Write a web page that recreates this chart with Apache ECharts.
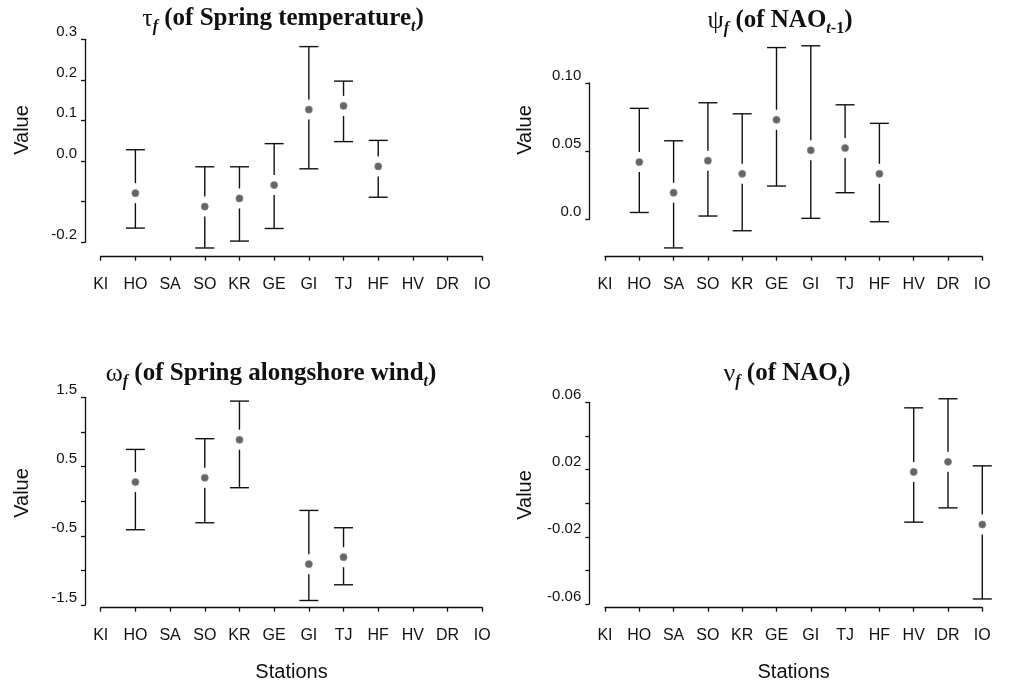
<!DOCTYPE html>
<html>
<head>
<meta charset="utf-8">
<script src="https://cdn.jsdelivr.net/npm/echarts@6/dist/echarts.min.js"></script>
<style>html,body{margin:0;padding:0;background:#fff}#c{width:1009px;height:684px}</style>
</head>
<body>
<div id="c"></div>
<script>
const stations = ['KI','HO','SA','SO','KR','GE','GI','TJ','HF','HV','DR','IO'];

// tau_f (Spring temperature)
const tauMean = [null,-0.079,null,-0.112,-0.092,-0.059,0.127,0.136,-0.013,null,null,null];
const tauLow  = [null,-0.165,null,-0.214,-0.197,-0.166,-0.019,0.048,-0.089,null,null,null];
const tauHigh = [null, 0.028,null,-0.014,-0.014, 0.043, 0.282,0.197, 0.051,null,null,null];
const tauTicks = ['-0.2','','0.0','0.1','0.2','0.3'];

// psi_f (NAO t-1)
const psiMean = [null,0.042,0.0195,0.043,0.0334,0.073,0.0506,0.0523,0.0334,null,null,null];
const psiLow  = [null,0.005,-0.021,0.0024,-0.0084,0.0244,0.0007,0.0195,-0.0018,null,null,null];
const psiHigh = [null,0.0814,0.0576,0.0855,0.0774,0.126,0.1273,0.084,0.0704,null,null,null];
const psiTicks = ['0.0','0.05','0.10'];

// omega_f (Spring alongshore wind)
const omgMean = [null,0.275,null,0.338,0.887,null,-0.910,-0.809,null,null,null,null];
const omgLow  = [null,-0.413,null,-0.312,0.194,null,-1.435,-1.208,null,null,null,null];
const omgHigh = [null,0.747,null,0.902,1.445,null,-0.134,-0.384,null,null,null,null];
const omgTicks = ['-1.5','','-0.5','','0.5','','1.5'];

// nu_f (NAO t)
const nuMean = [null,null,null,null,null,null,null,null,null,0.0186,0.0246,-0.0127];
const nuLow  = [null,null,null,null,null,null,null,null,null,-0.0113,-0.0028,-0.057];
const nuHigh = [null,null,null,null,null,null,null,null,null,0.0567,0.0621,0.0222];
const nuTicks = ['-0.06','','-0.02','','0.02','','0.06'];

const SANS = "'Liberation Sans', Arial, sans-serif";
const SERIF = "'Liberation Serif', 'Times New Roman', serif";
const INK = '#111';

function buildData(mean, low, high) {
  const out = [];
  mean.forEach((m, i) => { if (m !== null) out.push([i, m, low[i], high[i]]); });
  return out;
}

function renderBar(params, api) {
  const x = api.value(0);
  const pm = api.coord([x, api.value(1)]);
  const pl = api.coord([x, api.value(2)]);
  const ph = api.coord([x, api.value(3)]);
  const gap = 10, cap = 9.5;
  const ls = { stroke: INK, lineWidth: 1.4 };
  const kids = [];
  if (pm[1] - gap > ph[1]) kids.push({ type: 'line', shape: { x1: pm[0], y1: ph[1], x2: pm[0], y2: pm[1] - gap }, style: ls });
  if (pl[1] > pm[1] + gap) kids.push({ type: 'line', shape: { x1: pm[0], y1: pm[1] + gap, x2: pm[0], y2: pl[1] }, style: ls });
  kids.push({ type: 'line', shape: { x1: pm[0] - cap, y1: ph[1], x2: pm[0] + cap, y2: ph[1] }, style: ls });
  kids.push({ type: 'line', shape: { x1: pm[0] - cap, y1: pl[1], x2: pm[0] + cap, y2: pl[1] }, style: ls });
  kids.push({ type: 'circle', shape: { cx: pm[0], cy: pm[1], r: 3.6 }, style: { fill: '#666', stroke: '#888', lineWidth: 0.6 } });
  return { type: 'group', children: kids };
}

const panels = [
  { grid: { left: 100.7, width: 381.6, top: 39.3, height: 203 }, xOff: 14.4, min: -0.2, max: 0.3, interval: 0.1, ticks: tauTicks, data: buildData(tauMean, tauLow, tauHigh), stationsName: '' },
  { grid: { left: 605, width: 377.3, top: 83, height: 136.3 }, xOff: 37.4, min: 0, max: 0.10, interval: 0.05, ticks: psiTicks, data: buildData(psiMean, psiLow, psiHigh), stationsName: '' },
  { grid: { left: 100.7, width: 381.6, top: 397.3, height: 207.7 }, xOff: 2.7, min: -1.5, max: 1.5, interval: 0.5, ticks: omgTicks, data: buildData(omgMean, omgLow, omgHigh), stationsName: 'Stations' },
  { grid: { left: 605, width: 377.3, top: 402.3, height: 201.7 }, xOff: 3.7, min: -0.06, max: 0.06, interval: 0.02, ticks: nuTicks, data: buildData(nuMean, nuLow, nuHigh), stationsName: 'Stations' }
];

const axisLineStyle = { color: INK, width: 1.3 };

const option = {
  animation: false,
  backgroundColor: '#fff',
  grid: panels.map(p => Object.assign({ containLabel: false }, p.grid)),
  xAxis: panels.map((p, i) => ({
    type: 'category', gridIndex: i, data: stations, boundaryGap: false,
    position: 'bottom', offset: p.xOff,
    axisLine: { show: true, onZero: false, lineStyle: axisLineStyle },
    axisTick: { show: true, length: 4, alignWithLabel: true, lineStyle: axisLineStyle },
    axisLabel: { show: true, interval: 0, margin: 20, color: INK, fontFamily: SANS, fontSize: 16 },
    splitLine: { show: false },
    name: p.stationsName, nameLocation: 'middle', nameGap: 55,
    nameTextStyle: { color: INK, fontFamily: SANS, fontSize: 20 }
  })),
  yAxis: panels.map((p, i) => ({
    type: 'value', gridIndex: i, min: p.min, max: p.max, interval: p.interval,
    position: 'left', offset: 15.7,
    axisLine: { show: true, onZero: false, lineStyle: axisLineStyle },
    axisTick: { show: true, length: 4, lineStyle: axisLineStyle },
    splitLine: { show: false },
    axisLabel: {
      show: true, margin: 8, color: INK, fontFamily: SANS, fontSize: 15,
      verticalAlign: 'bottom',
      formatter: v => {
        const k = Math.round((v - p.min) / p.interval);
        return p.ticks[k] !== undefined ? p.ticks[k] : '';
      }
    }
  })),
  series: panels.map((p, i) => ({
    type: 'custom', xAxisIndex: i, yAxisIndex: i, clip: false,
    encode: { x: 0, y: [1, 2, 3] },
    renderItem: renderBar, data: p.data, silent: true
  })),
  graphic: (function () {
    const richStyle = {
      g: { fontFamily: SERIF, fontSize: 26, fontWeight: 'normal', color: INK, lineHeight: 32 },
      b: { fontFamily: SERIF, fontSize: 25, fontWeight: 'bold', color: INK, lineHeight: 32 },
      s: { fontFamily: SERIF, fontSize: 16, fontWeight: 'bold', fontStyle: 'italic', color: INK, lineHeight: 16, verticalAlign: 'bottom' },
      sb: { fontFamily: SERIF, fontSize: 16, fontWeight: 'bold', color: INK, lineHeight: 16, verticalAlign: 'bottom' }
    };
    const titles = [
      { x: 283, y: 19, text: '{g|τ}{s|f}{b| (of Spring temperature}{s|t}{b|)}' },
      { x: 780, y: 21, text: '{g|ψ}{s|f}{b| (of NAO}{s|t}{sb|-1}{b|)}' },
      { x: 271, y: 374, text: '{g|ω}{s|f}{b| (of Spring alongshore wind}{s|t}{b|)}' },
      { x: 787, y: 374, text: '{g|ν}{s|f}{b| (of NAO}{s|t}{b|)}' }
    ];
    const els = titles.map(t => ({
      type: 'text', x: t.x, y: t.y,
      style: { text: t.text, rich: richStyle, align: 'center', verticalAlign: 'middle', fill: INK }
    }));
    const values = [[22, 130], [525, 130], [22, 493], [525, 495]];
    values.forEach(v => els.push({
      type: 'text', x: v[0], y: v[1], rotation: Math.PI / 2,
      style: { text: 'Value', font: "20px 'Liberation Sans', Arial, sans-serif", fill: INK, align: 'center', verticalAlign: 'middle' }
    }));
    return els;
  })()
};

const chart = echarts.init(document.getElementById('c'), null, { renderer: 'canvas' });
chart.setOption(option);
</script>
</body>
</html>
